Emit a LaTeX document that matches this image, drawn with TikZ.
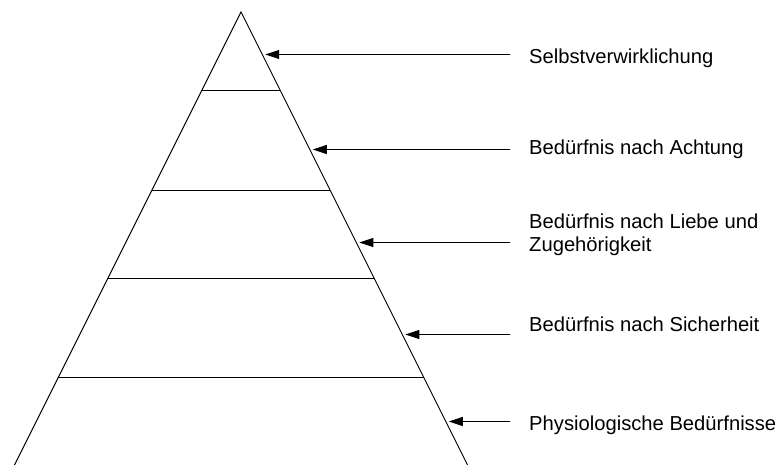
\documentclass[tikz,border=0pt]{standalone}
\usepackage{fontspec}
\setmainfont{Liberation Sans}
\usetikzlibrary{arrows.meta,calc}
\tikzset{
  edge/.style={line width=0.9pt, black},
  pointer/.style={line width=0.9pt, -{Triangle[length=14pt,width=9pt]}},
  lbl/.style={anchor=base west, inner sep=0pt, font=\fontsize{20.2}{23}\selectfont, align=left}
}
\begin{document}
\begin{tikzpicture}[x=1pt,y=-1pt]
\useasboundingbox (0,0) rectangle (779,465);
% pyramid
\coordinate (apex) at (241,12);
\coordinate (bl) at (14,466);
\coordinate (br) at (468,466);
\draw[edge] (bl) -- (apex) -- (br);
% level lines
\foreach \y [count=\i] in {90.5,190.5,278.5,377.5}{
  \coordinate (L\i) at ($(apex)!{(\y-12)/454}!(bl)$);
  \coordinate (R\i) at ($(apex)!{(\y-12)/454}!(br)$);
  \draw[edge] (L\i) -- (R\i);
}
% arrows
\foreach \y [count=\i] in {54.5,149.5,242.5,334.5,421.5}{
  \coordinate (T\i) at ($(apex)!{(\y-12)/454}!(br)+(3,0)$);
  \coordinate (S\i) at (510,\y);
  \draw[pointer] (S\i) -- (T\i);
}
% labels
\node[lbl] (n1) at (529,63.3) {Selbstverwirklichung};
\node[lbl] (n2) at (529,154.5) {Bedürfnis nach Achtung};
\node[lbl, anchor=north west] (n3) at (529,214) {Bedürfnis nach Liebe und\\Zugehörigkeit};
\node[lbl] (n4) at (529,331.7) {Bedürfnis nach Sicherheit};
\node[lbl] (n5) at (529,430) {Physiologische Bedürfnisse};
\end{tikzpicture}
\end{document}
